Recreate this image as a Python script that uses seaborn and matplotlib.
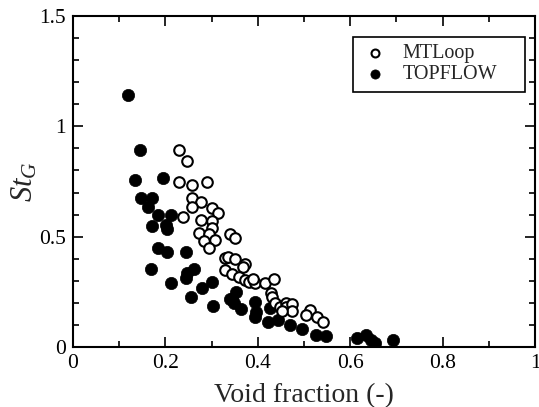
import numpy as np
import pandas as pd
import matplotlib
matplotlib.use("Agg")
import matplotlib.pyplot as plt
from matplotlib.ticker import MultipleLocator
from matplotlib.patches import Rectangle
import seaborn as sns

mt_x = [0.230, 0.247, 0.230, 0.258, 0.290, 0.258, 0.277, 0.258, 0.301, 0.314,
        0.239, 0.277, 0.301, 0.301, 0.273, 0.295, 0.284, 0.308, 0.295, 0.340,
        0.351, 0.329, 0.335, 0.351, 0.372, 0.368, 0.329, 0.344, 0.359, 0.372,
        0.381, 0.394, 0.389, 0.415, 0.434, 0.428, 0.430, 0.437, 0.447, 0.460,
        0.462, 0.473, 0.473, 0.452, 0.510, 0.514, 0.505, 0.529, 0.542]
mt_y = [0.891, 0.845, 0.750, 0.732, 0.750, 0.677, 0.655, 0.636, 0.632, 0.605,
        0.591, 0.577, 0.573, 0.541, 0.518, 0.514, 0.482, 0.486, 0.450, 0.514,
        0.495, 0.405, 0.409, 0.400, 0.377, 0.364, 0.350, 0.332, 0.318, 0.305,
        0.295, 0.291, 0.309, 0.291, 0.309, 0.245, 0.227, 0.200, 0.182, 0.200,
        0.182, 0.195, 0.164, 0.164, 0.155, 0.168, 0.145, 0.136, 0.114]

tf_x = [0.118, 0.146, 0.135, 0.194, 0.148, 0.170, 0.163, 0.185, 0.213, 0.172,
        0.202, 0.204, 0.185, 0.204, 0.245, 0.168, 0.247, 0.262, 0.245, 0.213,
        0.280, 0.301, 0.256, 0.303, 0.340, 0.353, 0.344, 0.348, 0.363, 0.394,
        0.396, 0.394, 0.426, 0.421, 0.443, 0.469, 0.495, 0.525, 0.548, 0.615,
        0.634, 0.645, 0.654, 0.692]
tf_y = [1.141, 0.891, 0.759, 0.768, 0.673, 0.673, 0.636, 0.600, 0.600, 0.550,
        0.555, 0.536, 0.450, 0.432, 0.432, 0.355, 0.336, 0.355, 0.314, 0.291,
        0.268, 0.295, 0.227, 0.186, 0.218, 0.250, 0.218, 0.200, 0.173, 0.205,
        0.159, 0.136, 0.177, 0.114, 0.123, 0.100, 0.082, 0.055, 0.050, 0.041,
        0.055, 0.032, 0.018, 0.032]

series = ["MTLoop", "TOPFLOW"]
x_ticks = [0, 0.2, 0.4, 0.6, 0.8, 1]
x_ticklabels = ["0", "0.2", "0.4", "0.6", "0.8", "1"]
y_ticks = [0, 0.5, 1, 1.5]
y_ticklabels = ["0", "0.5", "1", "1.5"]

df = pd.concat([
    pd.DataFrame({"x": mt_x, "y": mt_y, "set": series[0]}),
    pd.DataFrame({"x": tf_x, "y": tf_y, "set": series[1]}),
], ignore_index=True)

sns.set_style("ticks")
plt.rcParams["font.family"] = ["Liberation Serif", "DejaVu Serif"]
plt.rcParams["mathtext.fontset"] = "custom"
plt.rcParams["mathtext.it"] = "Liberation Serif:italic"
plt.rcParams["mathtext.rm"] = "Liberation Serif"

fig = plt.figure(figsize=(5.39, 4.07), dpi=100)
ax = fig.add_axes([73 / 539, 60 / 407, 462 / 539, 331 / 407])

sns.scatterplot(data=df[df["set"] == series[0]], x="x", y="y", ax=ax,
                marker="o", s=58, facecolor="white", edgecolor="black",
                linewidth=1.5, label=series[0], zorder=3)
sns.scatterplot(data=df[df["set"] == series[1]], x="x", y="y", ax=ax,
                marker="o", s=78, color="black", edgecolor="black",
                linewidth=0.5, label=series[1], zorder=2)

ax.set_xlim(0, 1)
ax.set_ylim(0, 1.5)
ax.xaxis.set_minor_locator(MultipleLocator(0.1))
ax.yaxis.set_minor_locator(MultipleLocator(0.1))
ax.set_xticks(x_ticks)
ax.set_xticklabels(x_ticklabels)
ax.set_yticks(y_ticks)
ax.set_yticklabels(y_ticklabels)

ax.tick_params(which="both", direction="in", top=True, right=True,
               labelsize=15.5, width=1.2, colors="black")
ax.tick_params(which="major", length=7, pad=5)
ax.tick_params(which="minor", length=4)
for sp in ax.spines.values():
    sp.set_linewidth(1.5)
    sp.set_color("black")

ax.set_xlabel("Void fraction (-)", fontsize=20)
ax.xaxis.set_label_coords(0.5, -0.108)
ax.set_ylabel(r"$St_G$", fontsize=22)
ax.yaxis.set_label_coords(-0.072, 0.5)

# legend frame (wider horizontally than matplotlib's uniform padding allows)
ax.add_patch(Rectangle((0.606, 0.77), 0.372, 0.168, transform=ax.transAxes,
                       facecolor="white", edgecolor="black", linewidth=1.2,
                       zorder=4, clip_on=False))
leg = ax.legend(loc="upper left", bbox_to_anchor=(0.624, 0.916), fontsize=14.5,
                frameon=False, handlelength=1.4, handletextpad=0.65,
                borderpad=0, labelspacing=0.1, markerscale=0.75,
                borderaxespad=0)
leg.set_zorder(5)

fig.savefig("out.png", dpi=100)
